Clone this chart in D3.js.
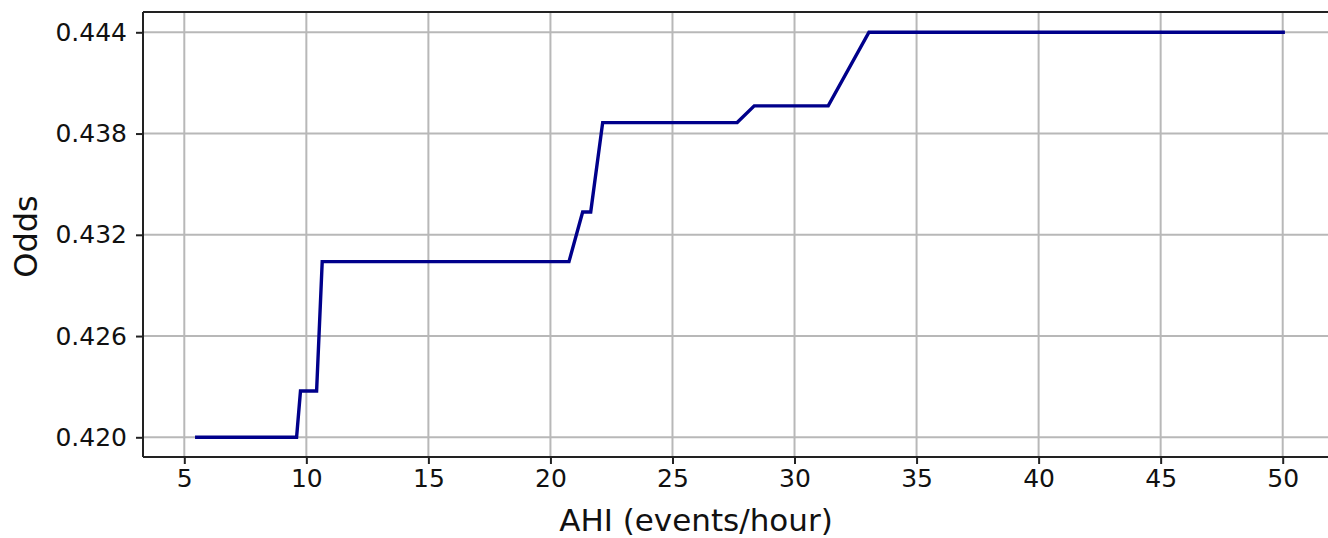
<!DOCTYPE html>
<html>
<head>
<meta charset="utf-8">
<script src="https://cdn.jsdelivr.net/npm/d3@7"></script>
<style>
  html, body { margin: 0; padding: 0; background: #fff; }
  svg { display: block; font-family: "DejaVu Sans", sans-serif; }
</style>
</head>
<body>
<svg id="chart" width="1328" height="538"></svg>
<script>
// Odds as a function of AHI (step-like response curve)
const ahi  = [5.44, 9.60, 9.76, 10.42, 10.65, 20.76, 21.32, 21.65, 22.14, 27.65, 28.35, 31.38, 33.05, 50.09];
const odds = [0.4200, 0.4200, 0.42274, 0.42274, 0.43041, 0.43041, 0.43335, 0.43335, 0.43865, 0.43865, 0.43964, 0.43964, 0.4440, 0.4440];

const xTicks = [5, 10, 15, 20, 25, 30, 35, 40, 45, 50];
const yTicks = [0.420, 0.426, 0.432, 0.438, 0.444];

const xLabel = "AHI (events/hour)";
const yLabel = "Odds";

const svg = d3.select("#chart");

const plot = { left: 143, top: 12, bottom: 457, right: 1340 };

const x = d3.scaleLinear().domain([5, 50]).range([184.3, 1282.7]);
const y = d3.scaleLinear().domain([0.420, 0.444]).range([437.3, 32.3]);

const gridColor = "#b8b8b8";

// grid
const grid = svg.append("g");
grid.selectAll("line.vx").data(xTicks).enter().append("line")
  .attr("x1", d => x(d)).attr("x2", d => x(d))
  .attr("y1", plot.top).attr("y2", plot.bottom)
  .attr("stroke", gridColor).attr("stroke-width", 2);
grid.selectAll("line.hy").data(yTicks).enter().append("line")
  .attr("x1", plot.left).attr("x2", plot.right)
  .attr("y1", d => y(d)).attr("y2", d => y(d))
  .attr("stroke", gridColor).attr("stroke-width", 2);

// data line
const line = d3.line().x((d, i) => x(ahi[i])).y(d => y(d));
svg.append("path")
  .datum(odds)
  .attr("d", line)
  .attr("fill", "none")
  .attr("stroke", "#00008b")
  .attr("stroke-width", 3.4)
  .attr("stroke-linejoin", "miter");

// axes
const xAxis = d3.axisBottom(x).tickValues(xTicks).tickSize(7).tickPadding(5)
  .tickFormat(d3.format("d"));
const gx = svg.append("g").attr("transform", `translate(0,${plot.bottom})`).call(xAxis);
gx.select(".domain").remove();
gx.selectAll(".tick line").attr("stroke", "#222").attr("stroke-width", 2);
gx.selectAll(".tick text").attr("font-size", 25).attr("fill", "#111")
  .attr("font-family", "DejaVu Sans, sans-serif");

const yAxis = d3.axisLeft(y).tickValues(yTicks).tickSize(7).tickPadding(9)
  .tickFormat(d3.format(".3f"));
const gy = svg.append("g").attr("transform", `translate(${plot.left},0)`).call(yAxis);
gy.select(".domain").remove();
gy.selectAll(".tick line").attr("stroke", "#222").attr("stroke-width", 2);
gy.selectAll(".tick text").attr("font-size", 25).attr("fill", "#111")
  .attr("font-family", "DejaVu Sans, sans-serif");

// spines
const sp = svg.append("g").attr("stroke", "#222").attr("stroke-width", 2).attr("fill", "none");
sp.append("line").attr("x1", plot.left).attr("x2", plot.right).attr("y1", plot.top).attr("y2", plot.top);
sp.append("line").attr("x1", plot.left).attr("x2", plot.right).attr("y1", plot.bottom).attr("y2", plot.bottom);
sp.append("line").attr("x1", plot.left).attr("x2", plot.left).attr("y1", plot.top).attr("y2", plot.bottom);

// axis titles
svg.append("text")
  .attr("x", 696).attr("y", 531)
  .attr("text-anchor", "middle")
  .attr("font-size", 31).attr("fill", "#111")
  .text(xLabel);
svg.append("text")
  .attr("transform", `translate(37,${(plot.top + plot.bottom) / 2 + 2}) rotate(-90)`)
  .attr("text-anchor", "middle")
  .attr("font-size", 32).attr("fill", "#111")
  .text(yLabel);
</script>
</body>
</html>
